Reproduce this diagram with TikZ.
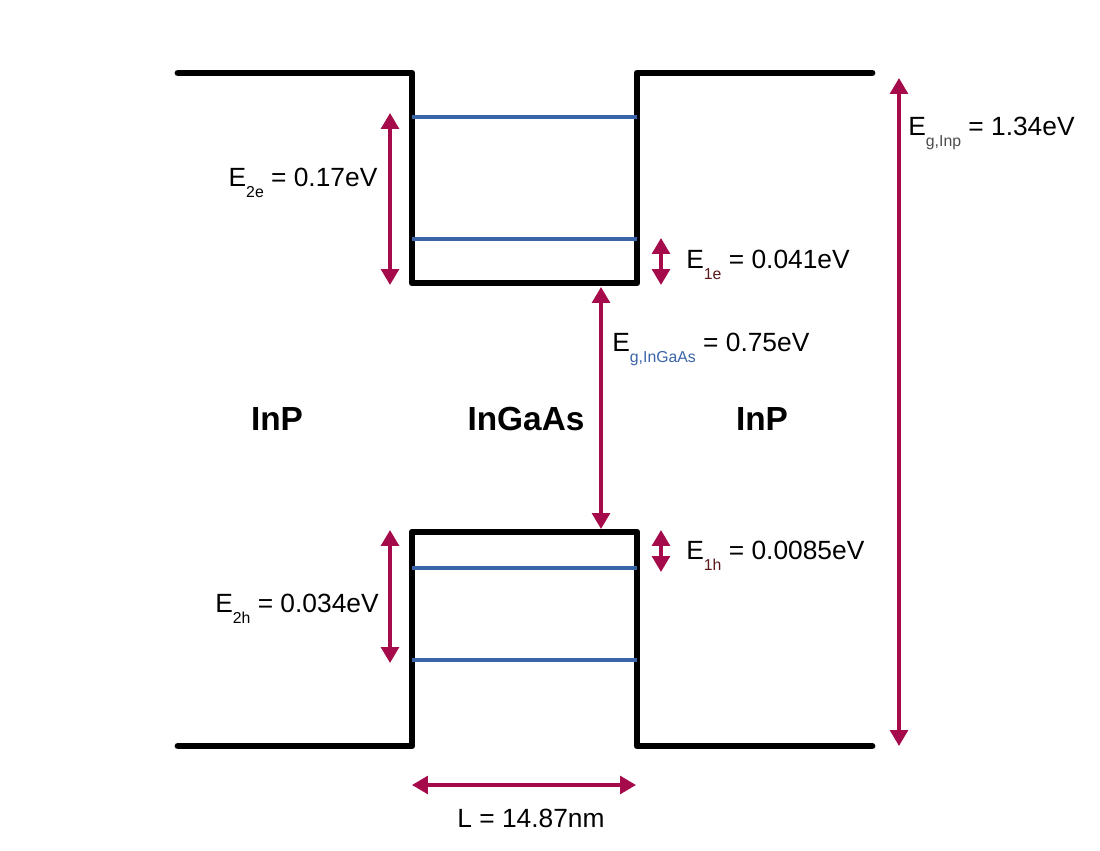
\documentclass[tikz,border=0pt]{standalone}
\usepackage{fontspec}
\setmainfont{Liberation Sans}
\usepackage{xcolor}
\usetikzlibrary{arrows.meta}

\definecolor{bandred}{HTML}{A50A4A}
\definecolor{levelblue}{HTML}{3A64A8}
\definecolor{subred}{HTML}{5A1A1A}
\newcommand{\lowsub}[2][black]{\raisebox{-0.8ex}{\fontsize{9}{11}\selectfont\color{#1}#2}}

\begin{document}
\begin{tikzpicture}[
  x=0.02cm, y=-0.02cm,
  band/.style={line width=3.9pt, line join=round, line cap=round},
  level/.style={levelblue, line width=2pt},
  gap/.style={bandred, line width=2pt, {Triangle[length=9pt,width=10pt]}-{Triangle[length=9pt,width=10pt]}},
  elabel/.style={font=\fontsize{15}{18}\selectfont, inner sep=0pt},
  material/.style={font=\fontsize{19}{22}\selectfont\bfseries, inner sep=0pt}
]
\useasboundingbox (0,0) rectangle (1100,850);

% band edges
\coordinate (cbL) at (412,283);
\coordinate (cbR) at (637,283);
\coordinate (vbL) at (412,532);
\coordinate (vbR) at (637,532);
\draw[band] (178,73) -- (412,73) -- (cbL) -- (cbR) -- (637,73) -- (872,73);
\draw[band] (178,746) -- (412,746) -- (vbL) -- (vbR) -- (637,746) -- (872,746);

% confined levels
\draw[level] (412,117) -- (637,117);
\draw[level] (412,239) -- (637,239);
\draw[level] (412,568) -- (637,568);
\draw[level] (412,660) -- (637,660);

% named ends of the arrows
\coordinate (e2eT) at (390,113);
\coordinate (e2eB) at (390,285);
\coordinate (e1eT) at (661,238);
\coordinate (e1eB) at (661,285);
\coordinate (egT) at (601,287);
\coordinate (egB) at (601,529);
\coordinate (e1hT) at (661,530);
\coordinate (e1hB) at (661,572);
\coordinate (e2hT) at (390,530);
\coordinate (e2hB) at (390,663);
\coordinate (inpT) at (899,78);
\coordinate (inpBot) at (899,746);
\coordinate (lenL) at (412,785);
\coordinate (lenR) at (636,785);

\draw[gap] (e2eT) -- (e2eB);
\draw[gap] (e1eT) -- (e1eB);
\draw[gap] (egT) -- (egB);
\draw[gap] (e1hT) -- (e1hB);
\draw[gap] (e2hT) -- (e2hB);
\draw[gap] (inpT) -- (inpBot);
\draw[gap] (lenL) -- (lenR);

\node[elabel, anchor=base] (e2e) at (303,186) {E\lowsub{2e} = 0.17eV};
\node[elabel, anchor=base west] (e1e) at (686,268) {E\lowsub[subred]{1e} = 0.041eV};
\node[elabel, anchor=base west] (eg) at (612,351) {E\lowsub[levelblue]{g,InGaAs} = 0.75eV};
\node[elabel, anchor=base west] (e1h) at (686,559) {E\lowsub[subred]{1h} = 0.0085eV};
\node[elabel, anchor=base] (e2h) at (297,612) {E\lowsub{2h} = 0.034eV};
\node[elabel, anchor=base west] (eginp) at (908,135) {E\lowsub[black!70]{g,Inp} = 1.34eV};
\node[elabel, anchor=base] (len) at (531,827) {L = 14.87nm};

\node[material, anchor=base] (inpL) at (277,430) {InP};
\node[material, anchor=base] (ingaas) at (526,430) {InGaAs};
\node[material, anchor=base] (inpR) at (762,430) {InP};
\end{tikzpicture}
\end{document}
